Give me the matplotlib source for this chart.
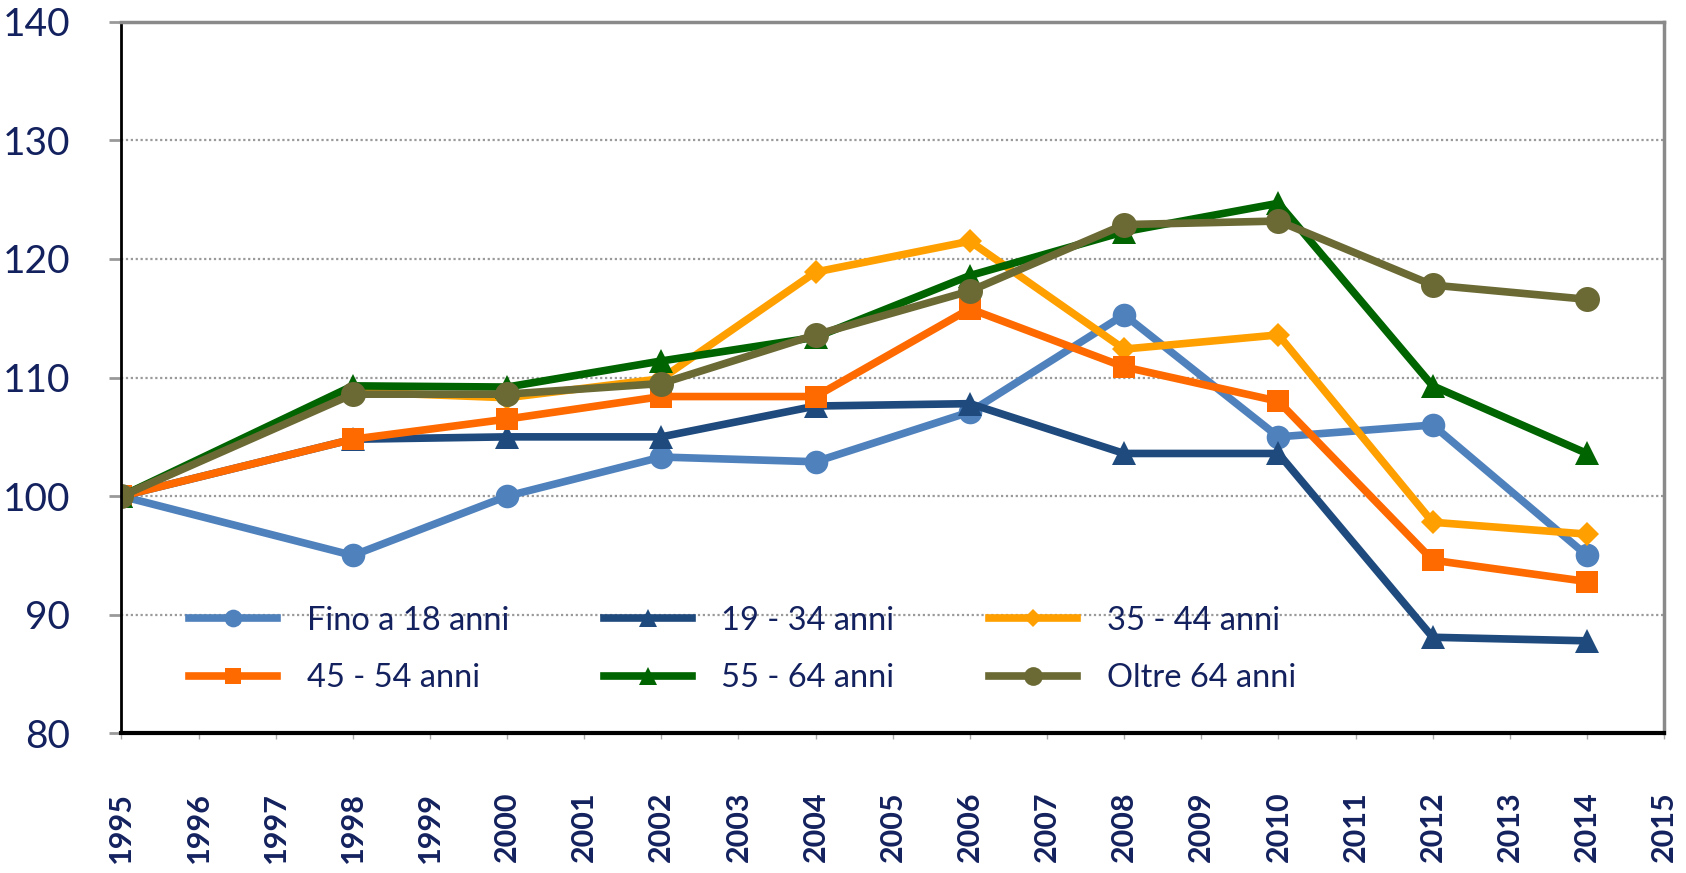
import numpy as np
import matplotlib
matplotlib.use('Agg')
import matplotlib.pyplot as plt

# data (index, 1995 = 100)
years = [1995, 1998, 2000, 2002, 2004, 2006, 2008, 2010, 2012, 2014]
fino_18 = [100, 95.0, 100.0, 103.3, 102.9, 107.1, 115.3, 105.0, 106.0, 95.0]
anni_19_34 = [100, 104.8, 105.0, 105.0, 107.6, 107.8, 103.6, 103.6, 88.1, 87.8]
anni_35_44 = [100, 108.8, 108.3, 109.9, 118.9, 121.5, 112.4, 113.6, 97.8, 96.8]
anni_45_54 = [100, 104.8, 106.5, 108.4, 108.4, 115.8, 110.9, 108.0, 94.6, 92.8]
anni_55_64 = [100, 109.3, 109.2, 111.4, 113.4, 118.6, 122.3, 124.7, 109.3, 103.6]
oltre_64 = [100, 108.6, 108.6, 109.5, 113.6, 117.3, 122.9, 123.2, 117.8, 116.6]

series_labels = ['Fino a 18 anni', '19 - 34 anni', '35 - 44 anni',
                 '45 - 54 anni', '55 - 64 anni', 'Oltre 64 anni']
tick_years = list(range(1995, 2016))
y_ticks = [80, 90, 100, 110, 120, 130, 140]

text_color = '#13215e'
plt.rcParams['font.family'] = ['Lato', 'DejaVu Sans']

fig = plt.figure(figsize=(16.86, 8.73), dpi=100)
ax = fig.add_axes([0.072, 0.160, 0.915, 0.815])

styles = [
    (fino_18, '#4f81bd', 'o', 17),
    (anni_19_34, '#1f4a7e', '^', 17),
    (anni_35_44, '#ffa000', 'D', 12),
    (anni_45_54, '#ff6a00', 's', 16),
    (anni_55_64, '#006400', '^', 17),
    (oltre_64, '#6b6a35', 'o', 18),
]
lines = []
for (vals, col, mk, ms), lab in zip(styles, series_labels):
    ln, = ax.plot(years, vals, color=col, marker=mk, markersize=ms,
                  linewidth=5.5, label=lab, markeredgewidth=0)
    lines.append(ln)

ax.set_xlim(1995, 2015)
ax.set_ylim(80, 140)
ax.set_yticks(y_ticks)
ax.set_xticks(tick_years)
ax.set_xticklabels([str(y) for y in tick_years], rotation=90,
                   fontsize=22, fontweight='bold', color=text_color)
ax.set_yticklabels([str(v) for v in y_ticks], fontsize=28, color=text_color)

ax.tick_params(axis='y', direction='out', length=9, width=2,
               color='#999999', pad=28)
ax.tick_params(axis='x', direction='out', length=4, width=1,
               color='#aaaaaa', pad=38)

ax.yaxis.grid(True, linestyle=(0, (1, 1.2)), color='#9a9a9a', linewidth=1.6)
ax.set_axisbelow(True)

ax.spines['left'].set_color('black')
ax.spines['left'].set_linewidth(2)
ax.spines['bottom'].set_color('black')
ax.spines['bottom'].set_linewidth(3)
ax.spines['top'].set_color('#8a8a8a')
ax.spines['top'].set_linewidth(2.5)
ax.spines['right'].set_color('#8a8a8a')
ax.spines['right'].set_linewidth(2.5)

# legend filled column by column, so reorder to get rows like the reference
order = [0, 3, 1, 4, 2, 5]
legend = ax.legend(
    handles=[lines[i] for i in order],
    ncol=3,
    loc='lower left',
    bbox_to_anchor=(0.025, 0.015),
    frameon=False,
    fontsize=23.5,
    numpoints=1,
    markerscale=0.75,
    handlelength=2.7,
    handletextpad=0.9,
    columnspacing=2.9,
    labelspacing=0.85,
)
for txt in legend.get_texts():
    txt.set_color(text_color)

fig.savefig('out.png', dpi=100)
